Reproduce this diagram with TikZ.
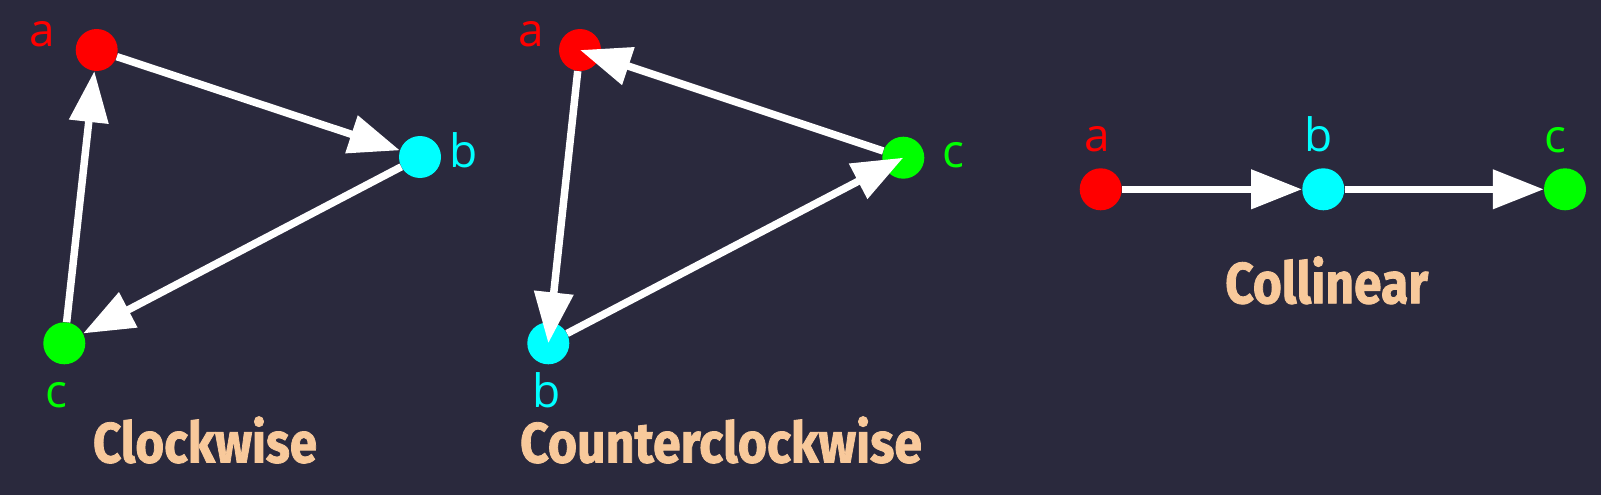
\documentclass[tikz,border=0pt]{standalone}
\usepackage{fontspec}
\usepackage{graphicx}
\setmainfont{Open Sans}
\newfontfamily\headfont{Fira Sans}[BoldFeatures={FakeBold=1.5}]
\usetikzlibrary{arrows.meta}

\definecolor{bgnavy}{HTML}{2A293D}
\definecolor{peach}{HTML}{F8C99B}
\definecolor{ptred}{HTML}{FF0000}
\definecolor{ptcyan}{HTML}{00FFFF}
\definecolor{ptgreen}{HTML}{00FF00}

\tikzset{
  pt/.style={circle,fill=#1,minimum size=42pt,inner sep=0pt},
  lbl/.style={text=#1,font=\fontsize{46}{46}\selectfont,inner sep=0pt},
  edge/.style={white,line width=7.5pt,-{Triangle[length=51pt,width=38pt]}},
  head/.style={text=peach,inner sep=0pt}
}

\begin{document}
\begin{tikzpicture}[x=1pt,y=-1pt]
  \fill [bgnavy] (0,0) rectangle (1601,495);

  % clockwise
  \node [pt=ptred] (cwa) at (96.7,50) {};
  \node [pt=ptcyan] (cwb) at (420,157) {};
  \node [pt=ptgreen] (cwc) at (64.3,343.3) {};
  \node [lbl=ptred] at (42.5,34.5) {a};
  \node [lbl=ptcyan] at (464,150.3) {b};
  \node [lbl=ptgreen] at (56.7,395) {c};
  \draw [edge] (cwa) -- (cwb);
  \draw [edge] (cwb) -- (cwc);
  \draw [edge] (cwc) -- (cwa);
  \node [head] (cwt) at (205,440) {\resizebox{224pt}{46pt}{\headfont\bfseries Clockwise}};

  % counterclockwise
  \node [pt=ptred] (ccwa) at (580,50) {};
  \node [pt=ptcyan] (ccwb) at (548.3,343.3) {};
  \node [pt=ptgreen] (ccwc) at (903.3,157.7) {};
  \node [lbl=ptred] at (531.7,34.5) {a};
  \node [lbl=ptcyan] at (546.7,390.7) {b};
  \node [lbl=ptgreen] at (953.7,155) {c};
  \draw [edge] (ccwa) -- (ccwb.center);
  \draw [edge] (ccwb) -- (ccwc.center);
  \draw [edge] (ccwc) -- (ccwa.center);
  \node [head] (ccwt) at (721,440) {\resizebox{401.7pt}{46pt}{\headfont\bfseries Counterclockwise}};

  % collinear
  \node [pt=ptred] (cola) at (1100.7,189.3) {};
  \node [pt=ptcyan] (colb) at (1323.3,189.3) {};
  \node [pt=ptgreen] (colc) at (1565,189.3) {};
  \node [lbl=ptred] at (1097.2,139.3) {a};
  \node [lbl=ptcyan] at (1318.8,134.7) {b};
  \node [lbl=ptgreen] at (1555.3,140) {c};
  \draw [edge] (cola) -- (colb);
  \draw [edge] (colb) -- (colc);
  \node [head] (colt) at (1326.7,280.3) {\resizebox{203pt}{47pt}{\headfont\bfseries Collinear}};
\end{tikzpicture}
\end{document}
